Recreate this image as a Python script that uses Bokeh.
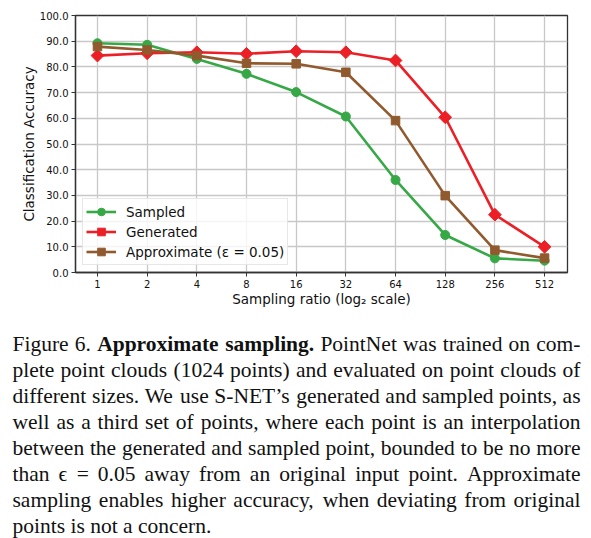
import numpy as np
from bokeh.core.properties import value
from bokeh.embed import file_html
from bokeh.models import FixedTicker, PrintfTickFormatter, Range1d
from bokeh.plotting import figure
from bokeh.resources import INLINE

# sampling ratio (x) and classification accuracy per method
ratios = [1, 2, 4, 8, 16, 32, 64, 128, 256, 512]
ratio_labels = ["1", "2", "4", "8", "16", "32", "64", "128", "256", "512"]
sampled = [89.2, 88.6, 83.1, 77.3, 70.2, 60.7, 36.0, 14.6, 5.5, 4.6]
generated = [84.4, 85.3, 85.7, 85.1, 86.1, 85.7, 82.5, 60.4, 22.5, 10.0]
approximate = [87.9, 86.6, 84.4, 81.4, 81.2, 77.9, 59.1, 29.9, 8.7, 5.6]
y_ticks = [0, 10, 20, 30, 40, 50, 60, 70, 80, 90, 100]

series_names = ["Sampled", "Generated", "Approximate (ε = 0.05)"]

# words starting with * are bold
caption_lines = [
    "Figure 6. *Approximate *sampling. PointNet was trained on com-",
    "plete point clouds (1024 points) and evaluated on point clouds of",
    "different sizes. We use S-NET’s generated and sampled points, as",
    "well as a third set of points, where each point is an interpolation",
    "between the generated and sampled point, bounded to be no more",
    "than ϵ = 0.05 away from an original input point. Approximate",
    "sampling enables higher accuracy, when deviating from original",
    "points is not a concern.",
]

TICK_FONT = "DejaVu Sans"
PAGE_W = 591
CHART_H = 310

p = figure(
    width=PAGE_W, height=CHART_H,
    x_axis_type="log",
    x_range=(0.736, 705), y_range=(0, 100),
    output_backend="svg", toolbar_location=None,
    min_border_left=75, min_border_right=24, min_border_top=15, min_border_bottom=38,
)

styles = [
    (sampled, "#36a846", "circle", 0.0, 9),
    (generated, "#ec1f26", "square", np.pi / 4, 9),
    (approximate, "#915a2e", "square", 0.0, 8.5),
]
for name, (vals, color, marker, angle, size) in zip(series_names, styles):
    p.line(ratios, vals, line_color=color, line_width=2.6, legend_label=name)
    p.scatter(ratios, vals, marker=marker, angle=angle, size=size,
              fill_color=color, line_color=color, legend_label=name)

p.xaxis.ticker = FixedTicker(ticks=ratios)
p.xaxis.major_label_overrides = dict(zip(ratios, ratio_labels))
p.yaxis.ticker = FixedTicker(ticks=y_ticks)
p.yaxis.formatter = PrintfTickFormatter(format="%.1f")

p.xaxis.axis_label = "Sampling ratio (log₂ scale)"
p.yaxis.axis_label = "Classification Accuracy"
p.axis.axis_label_text_font = TICK_FONT
p.axis.axis_label_text_font_size = "13.5px"
p.axis.axis_label_text_font_style = "normal"
p.axis.axis_label_text_color = "#111111"
p.axis.axis_label_standoff = 0
p.axis.major_label_text_font = TICK_FONT
p.axis.major_label_text_font_size = "10px"
p.axis.major_label_text_color = "#111111"
p.axis.major_label_standoff = 3
p.axis.major_tick_in = 0
p.axis.major_tick_out = 4
p.axis.major_tick_line_color = "#333333"
p.axis.minor_tick_line_color = None
p.axis.axis_line_color = "#333333"
p.axis.axis_line_width = 1.3
p.outline_line_color = "#333333"
p.outline_line_width = 1.3
p.outline_line_alpha = 1.0

p.grid.grid_line_color = "#c8c8c8"
p.grid.grid_line_width = 1.3
p.background_fill_color = "white"
p.border_fill_color = "white"

p.legend.location = "bottom_left"
p.legend.margin = 7
p.legend.padding = 3
p.legend.spacing = 1
p.legend.glyph_width = 30
p.legend.glyph_height = 19
p.legend.label_height = 19
p.legend.label_standoff = 10
p.legend.label_text_font = TICK_FONT
p.legend.label_text_font_size = "13.5px"
p.legend.label_text_color = "#111111"
p.legend.border_line_color = "#d0d0d0"
p.legend.background_fill_alpha = 0.8

# caption, justified word by word using Times metrics (Liberation Serif is metric compatible)
regular_w = dict(zip("abcdefghijklmnopqrstuvwxyz",
                     [444, 500, 444, 500, 444, 333, 500, 500, 278, 278, 500, 278, 778,
                      500, 500, 500, 500, 333, 389, 278, 500, 500, 722, 500, 500, 444]))
regular_w.update(zip("ABCDEFGHIJKLMNOPQRSTUVWXYZ",
                     [722, 667, 667, 722, 611, 556, 722, 722, 333, 389, 722, 611, 889,
                      722, 722, 556, 722, 667, 556, 611, 722, 722, 944, 722, 722, 611]))
regular_w.update({c: 500 for c in "0123456789"})
regular_w.update({".": 250, ",": 250, "(": 333, ")": 333, "-": 333, "’": 333, "=": 564, "ϵ": 420})
bold_w = dict(zip("abcdefghijklmnopqrstuvwxyz",
                  [500, 556, 444, 556, 444, 333, 500, 556, 278, 333, 556, 278, 833,
                   556, 500, 556, 556, 444, 389, 333, 556, 500, 722, 500, 500, 444]))
bold_w.update({"A": 722, ".": 250})

CAP_SIZE = 21.5
CAP_H = 538 - CHART_H
LEFT, RIGHT = 12, 580
FIRST_BASE, LINE_GAP = 33, 26.0


def word_width(word, bold):
    table = bold_w if bold else regular_w
    return sum(table.get(ch, 500) for ch in word) * CAP_SIZE / 1000.0


c = figure(
    width=PAGE_W, height=CAP_H,
    x_range=Range1d(0, PAGE_W), y_range=Range1d(CAP_H, 0),
    x_axis_location=None, y_axis_location=None,
    output_backend="svg", toolbar_location=None, min_border=0,
)
c.grid.visible = False
c.outline_line_color = None
c.background_fill_color = "white"
c.border_fill_color = "white"

xs = {False: [], True: []}
ys = {False: [], True: []}
words_out = {False: [], True: []}
for i, line in enumerate(caption_lines):
    words = []
    for w in line.split(" "):
        words.append((w.lstrip("*"), w.startswith("*")))
    widths = [word_width(w, b) for w, b in words]
    if i == len(caption_lines) - 1:
        gap = 250 * CAP_SIZE / 1000.0
    else:
        gap = (RIGHT - LEFT - sum(widths)) / (len(words) - 1)
    x = LEFT
    for (w, b), wd in zip(words, widths):
        xs[b].append(x)
        ys[b].append(FIRST_BASE + i * LINE_GAP)
        words_out[b].append(w)
        x += wd + gap

for b in (False, True):
    c.text(xs[b], ys[b], text=words_out[b], text_font=value("Liberation Serif"),
           text_font_size="%.1fpx" % CAP_SIZE, text_font_style="bold" if b else "normal",
           text_color="#111111", text_baseline="alphabetic", text_align="left")

# two separate roots so that Bokeh does not align the caption frame with the chart frame
open("out.html", "w").write(file_html([p, c], INLINE))
